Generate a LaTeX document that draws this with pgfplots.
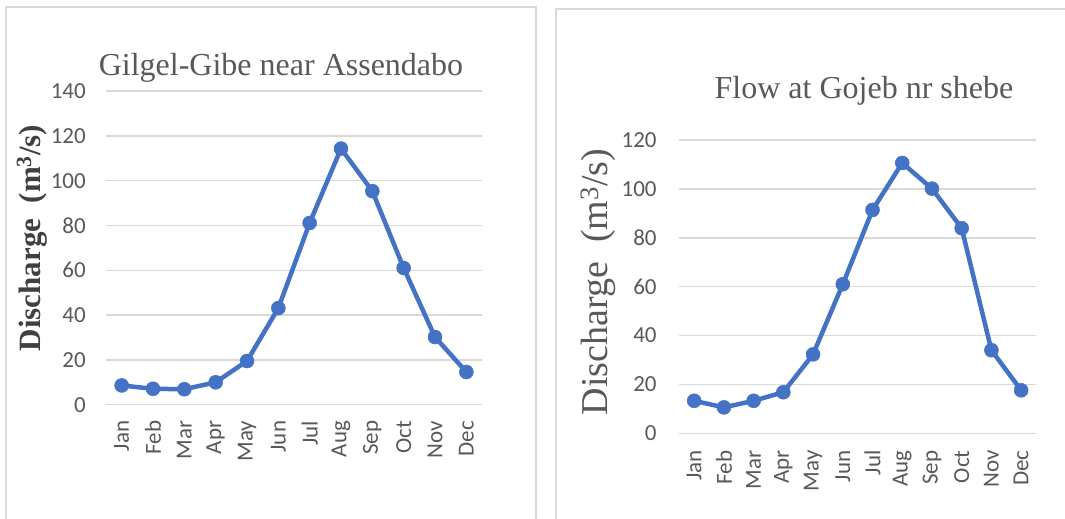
\documentclass[border=0pt]{standalone}
\usepackage{pgfplots}
\pgfplotsset{compat=1.18}
\usepackage{fontspec}
\setmainfont{Liberation Serif}
\newfontfamily\calibri{Carlito}
\definecolor{lineblue}{HTML}{4472C4}
\definecolor{gridgray}{HTML}{D9D9D9}
\definecolor{txtgray}{HTML}{595959}
\definecolor{labgray}{HTML}{404040}
\definecolor{bordergray}{HTML}{D9D9D9}

\pgfplotstableread{
x y
0 8.6
1 7.1
2 6.9
3 10.0
4 19.5
5 43.1
6 81.1
7 114.3
8 95.3
9 61.0
10 30.2
11 14.6
}\gilgel

\pgfplotstableread{
x y
0 13.3
1 10.6
2 13.3
3 16.8
4 32.3
5 61.0
6 91.4
7 110.6
8 100.1
9 83.9
10 34.0
11 17.6
}\gojeb

\pgfplotsset{
  myaxis/.style={
    scale only axis,
    xmin=-0.5, xmax=11.5, ymin=0,
    xtick={0,...,11},
    xticklabels={Jan,Feb,Mar,Apr,May,Jun,Jul,Aug,Sep,Oct,Nov,Dec},
    x tick label style={rotate=90, anchor=east, inner sep=0pt,
      font=\calibri\fontsize{23}{27}\selectfont, text=txtgray},
    y tick label style={anchor=east, inner sep=0pt,
      font=\calibri\fontsize{23}{27}\selectfont, text=txtgray},
    /pgf/number format/assume math mode=true,
    axis line style={draw=none},
    major tick length=0pt,
    tick style={draw=none},
    ymajorgrids,
    grid style={gridgray, line width=1.5pt},
    clip=false,
  },
  myline/.style={lineblue, line width=4.5pt, mark=*, mark size=7pt,
    mark options={fill=lineblue, draw=lineblue, line width=0.5pt}},
}

\begin{document}
\begin{tikzpicture}
\useasboundingbox (0,0) rectangle (1065pt,519pt);
\clip (0,0) rectangle (1065pt,519pt);
\fill[white] (0,0) rectangle (1065pt,519pt);

% panel borders
\draw[bordergray, line width=1.5pt] (6pt,-10pt) -- (6pt,512pt) -- (536pt,512pt) -- (536pt,-10pt);
\draw[bordergray, line width=1.5pt] (556pt,-10pt) -- (556pt,510pt) -- (1080pt,510pt);

\begin{axis}[myaxis,
  at={(106pt,114.3pt)}, anchor=south west,
  width=376pt, height=313.7pt,
  ymax=140, ytick={0,20,...,140},
  xticklabel shift=16pt, yticklabel shift=20pt]
\addplot[myline] table[x=x,y=y] {\gilgel};
\end{axis}

\begin{axis}[myaxis,
  at={(679.3pt,85.7pt)}, anchor=south west,
  width=356.7pt, height=293.3pt,
  ymax=120, ytick={0,20,...,120},
  xticklabel shift=17pt, yticklabel shift=22.5pt]
\addplot[myline] table[x=x,y=y] {\gojeb};
\end{axis}

% titles
\node[anchor=base, text=txtgray, font=\fontsize{32}{36}\selectfont, inner sep=0pt] at (281pt,443pt) {Gilgel-Gibe near Assendabo};
\node[anchor=base, text=txtgray, font=\fontsize{32}{36}\selectfont, inner sep=0pt] at (864pt,420pt) {Flow at Gojeb nr shebe};

% y labels
\node[rotate=90, text=labgray, font=\bfseries\fontsize{31}{35}\selectfont, inner sep=0pt] at (32pt,281pt) {Discharge\ \ (m\textsuperscript{3}/s)};
\node[rotate=90, text=txtgray, font=\fontsize{38}{42}\selectfont, inner sep=0pt] at (598pt,237pt) {Discharge\ \ (m\textsuperscript{3}/s)};
\end{tikzpicture}
\end{document}
